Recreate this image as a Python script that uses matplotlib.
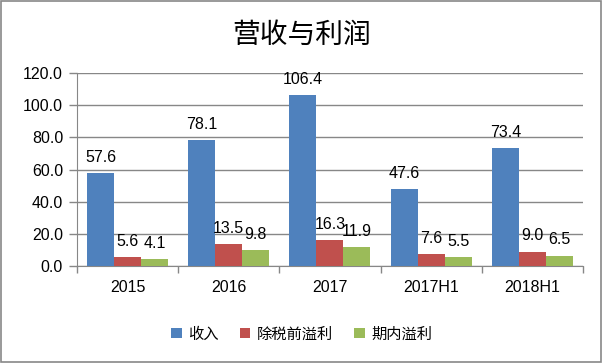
import matplotlib
matplotlib.use("Agg")
import matplotlib.pyplot as plt
import numpy as np
from matplotlib.patches import Rectangle

categories = ["2015", "2016", "2017", "2017H1", "2018H1"]
series_names = ["收入", "除税前溢利", "期内溢利"]
revenue = [57.6, 78.1, 106.4, 47.6, 73.4]
pretax_profit = [5.6, 13.5, 16.3, 7.6, 9.0]
period_profit = [4.1, 9.8, 11.9, 5.5, 6.5]
colors = ["#4F81BD", "#C0504D", "#9BBB59"]
y_ticks = [0, 20, 40, 60, 80, 100, 120]

plt.rcParams['font.family'] = ['Liberation Sans', 'Noto Sans CJK SC', 'DejaVu Sans']

fig = plt.figure(figsize=(6.03, 3.63), dpi=100)
ax = fig.add_axes([0.1277, 0.267, 0.839, 0.532])

x = np.arange(len(categories))
w = 0.267
data = [revenue, pretax_profit, period_profit]
for i, (vals, name, c) in enumerate(zip(data, series_names, colors)):
    pos = x + (i - 1) * w
    ax.bar(pos, vals, width=w, color=c, label=name, zorder=3)
    for p, v in zip(pos, vals):
        ax.annotate(f"{v:.1f}", (p, v), xytext=(0, 6), textcoords="offset points",
                    ha="center", va="bottom", fontsize=11.5, color="black", zorder=4)

ax.set_xlim(-0.5, len(categories) - 0.5)
ax.set_ylim(0, 120)
ax.set_yticks(y_ticks)
ax.set_yticklabels([f"{t:.1f}" for t in y_ticks], fontsize=11.5)
ax.yaxis.grid(True, color="#878787", linewidth=1.0, zorder=0)
ax.set_xticks(x)
ax.set_xticklabels(categories, fontsize=11.5)
ax.set_xticks(np.arange(len(categories) + 1) - 0.5, minor=True)
ax.tick_params(axis="x", which="major", length=0, pad=10)
ax.tick_params(axis="x", which="minor", length=5, color="#878787", width=1)
ax.tick_params(axis="y", length=6, color="#878787", width=1, pad=4)
for s in ["top", "right"]:
    ax.spines[s].set_visible(False)
ax.spines["left"].set_color("#878787")
ax.spines["bottom"].set_color("#878787")

fig.text(0.5, 0.905, "营收与利润", ha="center", va="center", fontsize=20,
         family=["Noto Sans CJK SC", "DejaVu Sans"])

leg = fig.legend(loc="center", bbox_to_anchor=(0.5, 0.08), ncol=3, frameon=False,
                 prop={"family": ["Noto Sans CJK SC", "DejaVu Sans"], "size": 11},
                 handlelength=0.7, handleheight=0.7, handletextpad=0.4, columnspacing=1.4)

fig.patches.append(Rectangle((0.002, 0.003), 0.995, 0.994, transform=fig.transFigure,
                             fill=False, edgecolor="#878787", linewidth=1.2))

fig.savefig("out.png", dpi=100)
